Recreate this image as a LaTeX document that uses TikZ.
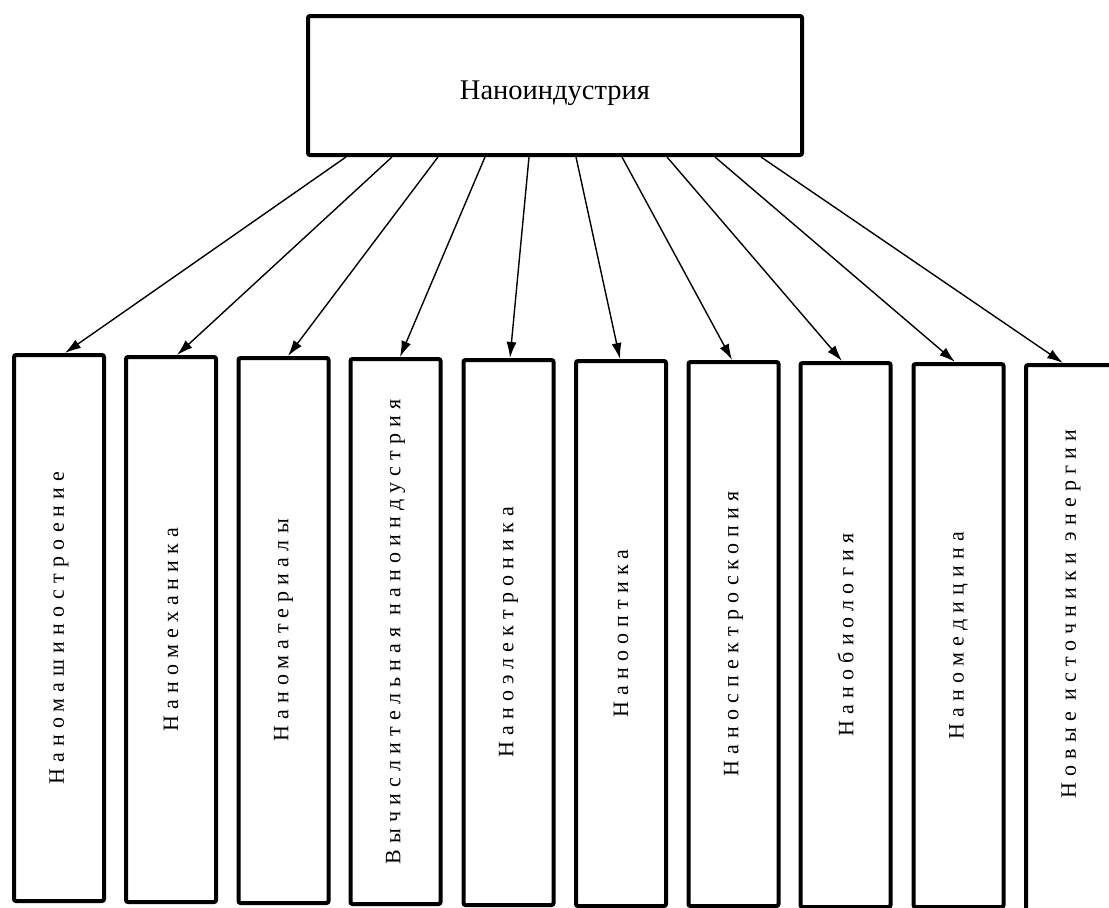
\documentclass[tikz,border=0pt]{standalone}
\usepackage{fontspec}
\setmainfont{Liberation Serif}
\newfontfamily\spacedfont[LetterSpace=28]{Liberation Serif}
\usetikzlibrary{arrows.meta}
\begin{document}
\begin{tikzpicture}[x=1pt,y=-1pt,
  topbox/.style={draw, line width=4pt, rounded corners=2pt, inner sep=0pt,
    minimum width=494pt, minimum height=139pt, font=\fontsize{28.5}{28.5}\selectfont},
  sub/.style={draw, line width=4pt, rounded corners=2pt, inner sep=0pt,
    minimum width=90pt, font=\spacedfont\fontsize{22}{22}\selectfont},
  arr/.style={-{Latex[length=16pt,width=10pt]}, line width=1.4pt}]
\useasboundingbox (0,0) rectangle (1109,908);
\clip (0,0) rectangle (1109,908);
\fill[white] (0,0) rectangle (1109,908);

\node[topbox] (top) at (555,85.5) {\raisebox{-14pt}[0pt][0pt]{Наноиндустрия}};

\node[sub, minimum height=546pt] (b1) at (59,628) {\rotatebox{90}{Наномашиностроение}};
\node[sub, minimum height=545pt] (b2) at (171,629.5) {\rotatebox{90}{Наномеханика}};
\node[sub, minimum height=545pt] (b3) at (283.5,630.5) {\rotatebox{90}{Наноматериалы}};
\node[sub, minimum height=545pt] (b4) at (395.5,631.5) {\rotatebox{90}{Вычислительная наноиндустрия}};
\node[sub, minimum height=545pt] (b5) at (508.5,632.5) {\rotatebox{90}{Наноэлектроника}};
\node[sub, minimum height=545pt] (b6) at (621,633.5) {\rotatebox{90}{Нанооптика}};
\node[sub, minimum height=544pt] (b7) at (733.5,634) {\rotatebox{90}{Наноспектроскопия}};
\node[sub, minimum height=544pt] (b8) at (845.5,635) {\rotatebox{90}{Нанобиология}};
\node[sub, minimum height=543pt] (b9) at (958.5,635.5) {\rotatebox{90}{Наномедицина}};
\node[sub, minimum height=560pt] (b10) at (1071,645) {\rotatebox{90}{\hspace{62pt}Новые источники энергии}};

\draw[arr] ([xshift=40pt]top.south west) -- ([xshift=6pt]b1.north);
\draw[arr] ([xshift=86pt]top.south west) -- ([xshift=6pt]b2.north);
\draw[arr] ([xshift=132pt]top.south west) -- ([xshift=4.5pt]b3.north);
\draw[arr] ([xshift=179pt]top.south west) -- ([xshift=4.5pt]b4.north);
\draw[arr] ([xshift=223pt]top.south west) -- ([xshift=1.5pt]b5.north);
\draw[arr] ([xshift=270pt]top.south west) -- ([xshift=-1pt]b6.north);
\draw[arr] ([xshift=316pt]top.south west) -- ([xshift=-1.5pt]b7.north);
\draw[arr] ([xshift=361pt]top.south west) -- ([xshift=-3.5pt]b8.north);
\draw[arr] ([xshift=409pt]top.south west) -- ([xshift=-3.5pt]b9.north);
\draw[arr] ([xshift=455pt]top.south west) -- ([xshift=-8pt]b10.north);
\end{tikzpicture}
\end{document}
